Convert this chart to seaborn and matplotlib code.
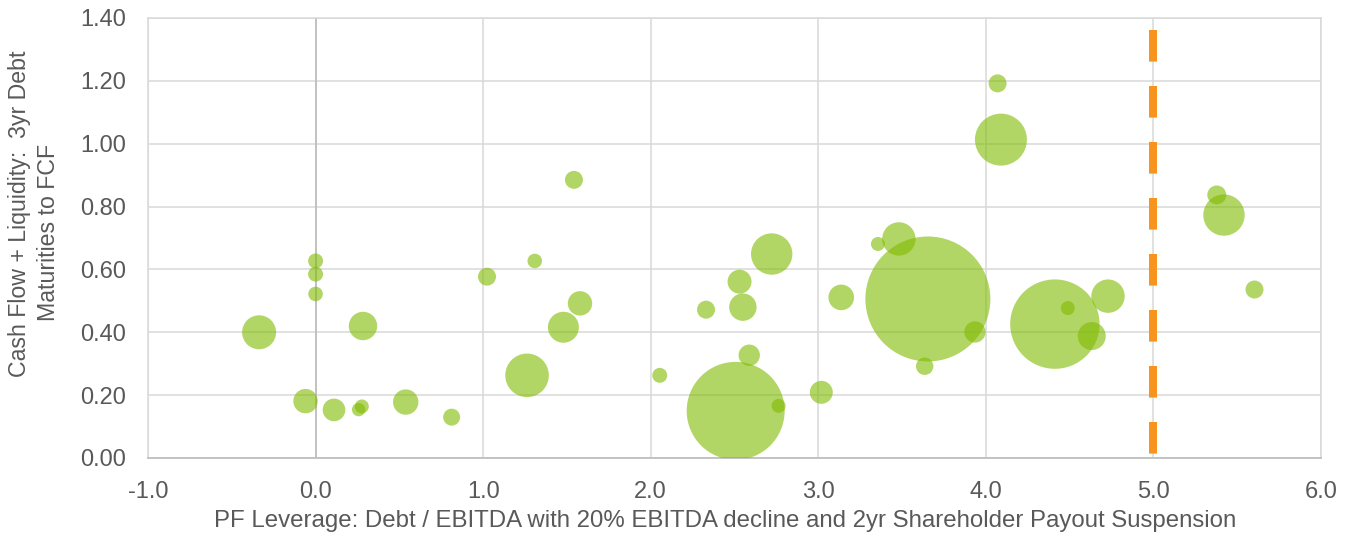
import numpy as np
import pandas as pd
import matplotlib
matplotlib.use("Agg")
import matplotlib.pyplot as plt
import seaborn as sns

# ---- data ----
leverage = [-0.337, -0.060, 0.110, 0.000, 0.000, 0.000, 0.283, 0.257, 0.276, 0.538,
            0.812, 1.023, 1.308, 1.262, 1.479, 1.578, 1.542, 2.054, 2.330, 2.530,
            2.550, 2.588, 2.507, 2.763, 2.722, 3.018, 3.137, 3.356, 3.481, 3.654,
            3.635, 3.935, 4.412, 4.489, 4.632, 4.729, 4.070, 4.090, 5.378, 5.421,
            5.603]
coverage = [0.400, 0.181, 0.153, 0.627, 0.585, 0.522, 0.420, 0.154, 0.164, 0.178,
            0.130, 0.577, 0.627, 0.263, 0.416, 0.492, 0.885, 0.263, 0.472, 0.561,
            0.480, 0.327, 0.150, 0.166, 0.649, 0.209, 0.511, 0.681, 0.697, 0.506,
            0.292, 0.401, 0.426, 0.477, 0.388, 0.515, 1.192, 1.013, 0.837, 0.773,
            0.536]
# bubble size (relative area)
bubble = [289, 149, 128, 56, 56, 53, 202, 45, 49, 161,
          72, 81, 53, 475, 240, 149, 81, 56, 81, 144,
          188, 114, 2401, 49, 428, 132, 164, 49, 279, 3906,
          76, 114, 1998, 49, 196, 279, 81, 676, 90, 428,
          81]
threshold = 5.0
x_ticks = [-1.0, 0.0, 1.0, 2.0, 3.0, 4.0, 5.0, 6.0]
y_ticks = [0.0, 0.2, 0.4, 0.6, 0.8, 1.0, 1.2, 1.4]
x_title = "PF Leverage: Debt / EBITDA with 20% EBITDA decline and 2yr Shareholder Payout Suspension"
y_title_1 = "Cash Flow + Liquidity:  3yr Debt"
y_title_2 = "Maturities to FCF"

df = pd.DataFrame({"lev": leverage, "cov": coverage, "size": bubble})

sns.set_theme(style="white")
plt.rcParams["font.family"] = ["Liberation Sans", "DejaVu Sans"]
plt.rcParams["lines.scale_dashes"] = False

W, H = 1352, 537
fig = plt.figure(figsize=(W / 100, H / 100), dpi=100)
L, R, T, B = 148, 1321, 18, 458
ax = fig.add_axes([L / W, 1 - B / H, (R - L) / W, (B - T) / H])

k = (2 * 0.72) ** 2  # px^2 -> pt^2 area for marker diameter
smin, smax = min(bubble), max(bubble)
sns.scatterplot(data=df, x="lev", y="cov", size="size",
                sizes=(k * smin, k * smax), size_norm=(smin, smax),
                color="#80BB00", alpha=0.6, linewidth=0, legend=False,
                ax=ax, zorder=3)

# threshold line
ax.plot([threshold, threshold], [1.4, 0.0], color="#F7941D", lw=8 * 0.72,
        linestyle=(44 * 0.72, (31.6 * 0.72, 24.4 * 0.72)),
        dash_capstyle="butt", zorder=4)

ax.set_xlim(-1.0, 6.0)
ax.set_ylim(0.0, 1.4)
ax.set_xticks(x_ticks)
ax.set_yticks(y_ticks)
ax.set_xticklabels([f"{v:.1f}" for v in x_ticks])
ax.set_yticklabels([f"{v:.2f}" for v in y_ticks])
ax.grid(True, color="#D9D9D9", lw=1.1, zorder=0)
ax.set_axisbelow(True)
ax.axvline(0, color="#BFBFBF", lw=1.3, zorder=1)
for s in ["left", "right", "top"]:
    ax.spines[s].set_color("#D9D9D9")
    ax.spines[s].set_linewidth(1.1)
ax.spines["bottom"].set_color("#BFBFBF")
ax.spines["bottom"].set_linewidth(1.3)
ax.tick_params(axis="both", length=0, labelsize=17, labelcolor="#595959")
ax.tick_params(axis="x", pad=16.5)
ax.tick_params(axis="y", pad=15.5)
ax.set_xlabel("")
ax.set_ylabel("")

fig.text(725 / W, 1 - 521 / H, x_title, ha="center", va="center",
         fontsize=17.3, color="#595959")
fig.text(20 / W, 1 - 214 / H, y_title_1, ha="center", va="center",
         rotation=90, fontsize=16.7, color="#595959")
fig.text(49 / W, 1 - 232 / H, y_title_2, ha="center", va="center",
         rotation=90, fontsize=16.7, color="#595959")

fig.savefig("out.png", dpi=100)
